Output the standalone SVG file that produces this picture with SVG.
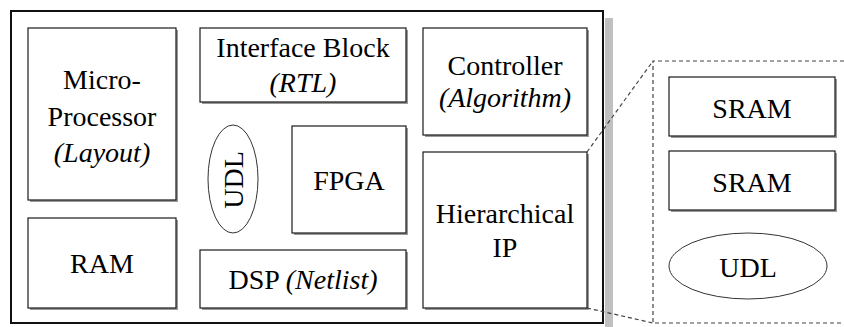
<svg xmlns="http://www.w3.org/2000/svg" width="844" height="327" viewBox="0 0 844 327">
<defs>
  <rect id="shadowfill" width="0" height="0" fill="#9a9a9a"/>
</defs>
<rect width="844" height="327" fill="#ffffff"/>

<g id="chip">
  <rect x="605" y="18" width="8" height="309" fill="#c0c0c0"/>
  <rect x="11" y="11" width="592" height="312" fill="#ffffff" stroke="#111" stroke-width="2"/>
</g>

<g font-family="Liberation Serif" font-size="28" text-anchor="middle" fill="#000">

<g id="microprocessor">
  <rect x="30" y="30" width="148" height="172" fill="#9a9a9a"/>
  <rect x="28" y="28" width="148" height="172" fill="#fff" stroke="#1a1a1a" stroke-width="1.2"/>
  <text x="102" y="89">Micro-</text>
  <text x="102" y="126">Processor</text>
  <text font-style="italic" x="102" y="162">(Layout)</text>
</g>

<g id="ram">
  <rect x="30" y="220" width="148" height="90" fill="#9a9a9a"/>
  <rect x="28" y="218" width="148" height="90" fill="#fff" stroke="#1a1a1a" stroke-width="1.2"/>
  <text x="102" y="273">RAM</text>
</g>

<g id="interface">
  <rect x="202" y="30" width="206" height="74" fill="#9a9a9a"/>
  <rect x="200" y="28" width="206" height="74" fill="#fff" stroke="#1a1a1a" stroke-width="1.2"/>
  <text x="303" y="57">Interface Block</text>
  <text font-style="italic" x="303" y="92">(RTL)</text>
</g>

<g id="controller">
  <rect x="425" y="30" width="164" height="107" fill="#9a9a9a"/>
  <rect x="423" y="28" width="164" height="107" fill="#fff" stroke="#1a1a1a" stroke-width="1.2"/>
  <text x="505" y="75">Controller</text>
  <text font-style="italic" x="505" y="107">(Algorithm)</text>
</g>

<g id="udl-inner">
  <ellipse cx="233" cy="179" rx="25" ry="54" fill="#fff" stroke="#333" stroke-width="1"/>
  <text transform="translate(243,180) rotate(-90)" x="0" y="0">UDL</text>
</g>

<g id="fpga">
  <rect x="294" y="128" width="114" height="107" fill="#9a9a9a"/>
  <rect x="292" y="126" width="114" height="107" fill="#fff" stroke="#1a1a1a" stroke-width="1.2"/>
  <text x="349" y="190">FPGA</text>
</g>

<g id="dsp">
  <rect x="202" y="252" width="206" height="58" fill="#9a9a9a"/>
  <rect x="200" y="250" width="206" height="58" fill="#fff" stroke="#1a1a1a" stroke-width="1.2"/>
  <text x="303" y="289">DSP <tspan font-style="italic">(Netlist)</tspan></text>
</g>

<g id="hierarchical">
  <rect x="425" y="154" width="164" height="156" fill="#9a9a9a"/>
  <rect x="423" y="152" width="164" height="156" fill="#fff" stroke="#1a1a1a" stroke-width="1.2"/>
  <text x="505" y="223">Hierarchical</text>
  <text x="505" y="257">IP</text>
</g>

<g id="connectors" fill="none" stroke="#444" stroke-width="1.2" stroke-dasharray="4 3">
  <path d="M844,61 H653 V323 H844"/>
  <line x1="587" y1="152" x2="653" y2="61"/>
  <line x1="587" y1="308" x2="653" y2="323"/>
</g>

<g id="sram1">
  <rect x="671" y="79" width="166" height="59" fill="#9a9a9a"/>
  <rect x="669" y="77" width="166" height="59" fill="#fff" stroke="#1a1a1a" stroke-width="1.2"/>
  <text x="752" y="118">SRAM</text>
</g>

<g id="sram2">
  <rect x="671" y="153" width="166" height="59" fill="#9a9a9a"/>
  <rect x="669" y="151" width="166" height="59" fill="#fff" stroke="#1a1a1a" stroke-width="1.2"/>
  <text x="752" y="192">SRAM</text>
</g>

<g id="udl-outer">
  <ellipse cx="748" cy="266" rx="79" ry="33" fill="#fff" stroke="#333" stroke-width="1"/>
  <text x="748" y="277">UDL</text>
</g>

</g>
</svg>
